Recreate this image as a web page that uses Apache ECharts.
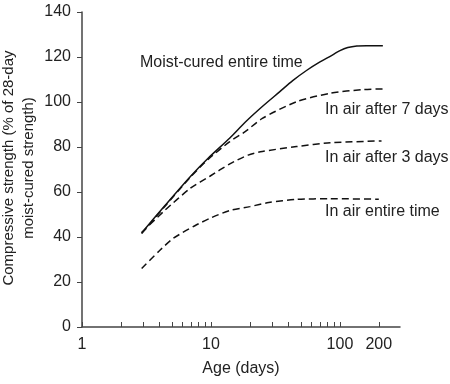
<!DOCTYPE html>
<html>
<head>
<meta charset="utf-8">
<script src="https://cdn.jsdelivr.net/npm/echarts@6/dist/echarts.min.js"></script>
<style>
  html, body { margin: 0; padding: 0; background: #fff; }
  #chart { width: 450px; height: 384px; }
</style>
</head>
<body>
<div id="chart"></div>
<script>
// ---- Data (age in days, strength in % of 28-day moist-cured strength) ----
const moistAges   = [2.9, 4.4, 6.9, 9.5, 14, 18.4, 25, 34, 43, 55, 70, 84, 100, 115, 135, 160, 215];
const moistVals   = [41.8, 54, 66.8, 75, 84, 91, 98, 104.5, 109.5, 114, 117.8, 120.3, 122.8, 124.2, 124.9, 125, 125];

const air7Ages    = [2.9, 4.4, 6.9, 9.5, 14, 18.4, 25, 46, 84, 150, 215];
const air7Vals    = [41.5, 53.7, 66.5, 74.5, 82.4, 86.8, 92.7, 100.1, 103.9, 105.5, 105.8];

const air3Ages    = [2.9, 4.4, 6.9, 9.8, 14, 19.4, 25, 46, 84, 210];
const air3Vals    = [42, 51.9, 61.6, 67, 72.5, 76.4, 78, 80.2, 81.9, 82.7];

const airAges     = [2.9, 4, 5.1, 7.5, 10, 14, 20, 28, 46, 84, 200];
const airVals     = [26, 34, 39.4, 45, 48.5, 51.8, 53.5, 55.3, 56.7, 57, 56.8];

const xTickValues  = [1, 2, 3, 4, 5, 6, 7, 8, 9, 10, 20, 30, 40, 50, 60, 70, 80, 90, 100, 200];
const xLabelValues = [1, 10, 100, 200];
const yMin = 0, yMax = 140, yStep = 20;
const xMaxAge = 292;

const xTitle = 'Age (days)';
const yTitle = 'Compressive strength (% of 28-day\nmoist-cured strength)';
const seriesLabels = ['Moist-cured entire time', 'In air after 7 days', 'In air after 3 days', 'In air entire time'];

// ---- Build ----
const lg = v => Math.log10(v);
const pairs = (a, v) => a.map((x, i) => [lg(x), v[i]]);

const FONT = '"Liberation Sans", Arial, sans-serif';
const FS = 16;
const TXT = '#222';
const AX = '#444';

const chart = echarts.init(document.getElementById('chart'), null, { renderer: 'canvas' });

function lineSeries(name, data, dashed) {
  return {
    name, type: 'line', data,
    smooth: 0.25,
    showSymbol: false, silent: true,
    lineStyle: { color: '#111', width: 1.5, type: dashed ? [7, 4] : 'solid' }
  };
}

chart.setOption({
  animation: false,
  backgroundColor: '#fff',
  grid: { left: 82, right: 50, top: 12, bottom: 57, containLabel: false, outerBoundsMode: 'none' },
  xAxis: {
    type: 'value', min: 0, max: lg(xMaxAge),
    name: xTitle, nameLocation: 'middle', nameGap: 34,
    nameTextStyle: { fontFamily: FONT, fontSize: FS, color: TXT },
    axisLine: { show: true, lineStyle: { color: AX, width: 1.5 } },
    axisTick: { show: true, inside: true, length: 5, lineStyle: { color: AX, width: 1 },
                customValues: xTickValues.map(lg) },
    axisLabel: { customValues: xLabelValues.map(lg), margin: 10,
                 fontFamily: FONT, fontSize: FS, color: TXT,
                 formatter: v => String(Math.round(Math.pow(10, v))) },
    splitLine: { show: false }
  },
  yAxis: {
    type: 'value', min: yMin, max: yMax, interval: yStep,
    axisLine: { show: true, lineStyle: { color: AX, width: 1.5 } },
    axisTick: { show: true, inside: false, length: 5, lineStyle: { color: AX, width: 1 } },
    axisLabel: { margin: 11, fontFamily: FONT, fontSize: FS, color: TXT },
    splitLine: { show: false }
  },
  series: [
    lineSeries(seriesLabels[0], pairs(moistAges, moistVals), false),
    lineSeries(seriesLabels[1], pairs(air7Ages, air7Vals), true),
    lineSeries(seriesLabels[2], pairs(air3Ages, air3Vals), true),
    lineSeries(seriesLabels[3], pairs(airAges, airVals), true)
  ],
  graphic: [
    { type: 'text', x: 19, y: 168, rotation: Math.PI / 2,
      style: { text: yTitle, font: '15px ' + FONT, fill: TXT, align: 'center', verticalAlign: 'middle', lineHeight: 19.5 } },
    { type: 'text', left: 140, top: 55, style: { text: seriesLabels[0], font: FS + 'px ' + FONT, fill: TXT } },
    { type: 'text', left: 325, top: 102, style: { text: seriesLabels[1], font: FS + 'px ' + FONT, fill: TXT } },
    { type: 'text', left: 325, top: 150, style: { text: seriesLabels[2], font: FS + 'px ' + FONT, fill: TXT } },
    { type: 'text', left: 325, top: 204, style: { text: seriesLabels[3], font: FS + 'px ' + FONT, fill: TXT } }
  ]
});
</script>
</body>
</html>
